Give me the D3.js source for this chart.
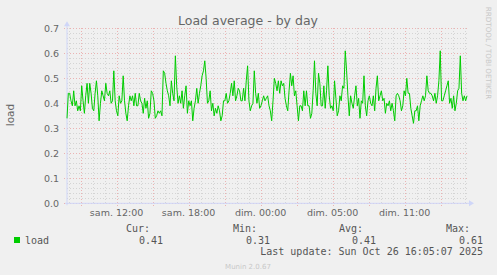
<!DOCTYPE html>
<html>
<head>
<meta charset="utf-8">
<script src="https://cdn.jsdelivr.net/npm/d3@7"></script>
<style>
html,body{margin:0;padding:0;background:#f0f0f0;}
svg{display:block;}
text{font-family:"DejaVu Sans",sans-serif;}
.mono{font-family:"DejaVu Sans Mono",monospace;}
</style>
</head>
<body>
<svg id="chart" width="497" height="275"></svg>
<script>
// ---------- data ----------
const title = "Load average - by day";
const yLabel = "load";
const seriesName = "load";
const startTime = "2025-10-25T05:52:00Z";
const endTime = "2025-10-26T15:12:00Z";
const dstEnd = "2025-10-26T01:00:00Z";
const dayNames = ["dim.", "lun.", "mar.", "mer.", "jeu.", "ven.", "sam."];
const yTicks = [0.0, 0.1, 0.2, 0.3, 0.4, 0.5, 0.6, 0.7];
const legendHeaders = ["Cur:", "Min:", "Avg:", "Max:"];
const legendValues = ["0.41", "0.31", "0.41", "0.61"];
const lastUpdate = "Last update: Sun Oct 26 16:05:07 2025";
const footer = "Munin 2.0.67";
const watermark = "RRDTOOL / TOBI OETIKER";

const loadValues = [
0.34,0.44,0.44,0.41,0.39,0.45,0.39,0.41,0.37,0.39,0.37,0.47,0.41,0.36,0.43,0.48,0.40,0.48,0.44,0.38,
0.37,0.44,0.49,0.43,0.33,0.40,0.45,0.43,0.41,0.48,0.44,0.43,0.45,0.40,0.41,0.53,0.41,0.37,0.35,0.43,
0.40,0.41,0.51,0.41,0.36,0.33,0.39,0.43,0.41,0.43,0.39,0.44,0.39,0.39,0.44,0.41,0.40,0.36,0.42,0.38,
0.41,0.34,0.36,0.45,0.44,0.41,0.34,0.35,0.37,0.36,0.37,0.35,0.53,0.52,0.48,0.45,0.43,0.39,0.49,0.44,
0.41,0.59,0.47,0.40,0.43,0.40,0.45,0.38,0.43,0.47,0.36,0.41,0.39,0.41,0.33,0.38,0.41,0.46,0.40,0.44,
0.47,0.51,0.53,0.57,0.50,0.40,0.41,0.45,0.37,0.40,0.35,0.38,0.36,0.39,0.37,0.33,0.35,0.41,0.41,0.44,
0.40,0.41,0.44,0.48,0.43,0.49,0.41,0.43,0.46,0.45,0.41,0.41,0.46,0.41,0.49,0.55,0.41,0.37,0.39,0.40,
0.53,0.44,0.40,0.44,0.38,0.39,0.41,0.43,0.41,
0.42,0.43,0.39,0.37,0.33,0.41,0.50,0.48,0.45,0.49,0.44,0.49,0.47,0.48,0.42,0.39,0.37,0.45,0.52,0.47,
0.51,0.43,0.45,0.39,0.33,0.39,0.39,0.37,0.45,0.39,0.45,0.39,0.39,0.34,0.36,0.45,0.57,0.44,0.39,0.52,
0.48,0.39,0.39,0.47,0.38,0.45,0.55,0.43,0.38,0.39,0.37,0.49,0.42,0.35,0.37,0.43,0.41,0.47,0.46,0.61,
0.53,0.43,0.35,0.43,0.40,0.38,0.43,0.47,0.39,0.42,0.34,0.41,0.40,0.51,0.39,0.35,0.41,0.43,0.40,0.39,
0.43,0.37,0.46,0.51,0.41,0.43,0.45,0.41,0.42,0.36,0.40,0.39,0.41,0.37,0.40,0.37,0.33,0.43,0.44,0.43,
0.41,0.37,0.39,0.45,0.43,0.50,0.44,0.44,0.38,0.35,0.32,0.37,0.37,0.39,0.33,0.39,0.41,0.43,0.41,0.43,
0.51,0.45,0.44,0.44,0.43,0.41,0.44,0.40,0.43,0.49,0.61,0.41,0.41,0.43,0.45,0.47,0.49,0.40,0.42,0.38,
0.43,0.37,0.40,0.45,0.46,0.59,0.44,0.41,0.43,0.41,0.43
];

// ---------- layout ----------
const W = 497, H = 275;
const plot = {left: 67, right: 467, top: 28.3, bottom: 203.3};
const C = {
  back: "#f0f0f0", canvas: "#f0f0f0", font: "#666666", axis: "#cfd6f8",
  grid: "rgba(140,140,140,0.28)", mgrid: "rgba(225,80,80,0.38)", line: "#00cc00",
  legendText: "#555555", faint: "#c8c8c8"
};

const svg = d3.select("#chart");
svg.append("rect").attr("width", W).attr("height", H).attr("fill", C.back);
svg.append("rect").attr("x", plot.left).attr("y", plot.top)
  .attr("width", plot.right - plot.left).attr("height", plot.bottom - plot.top).attr("fill", C.canvas);

const t0 = new Date(startTime), t1 = new Date(endTime), tDst = new Date(dstEnd);
const x = d3.scaleUtc().domain([t0, t1]).range([plot.left, plot.right]);
const y = d3.scaleLinear().domain([0, 0.7]).range([plot.bottom, plot.top]);

// grid
const g = svg.append("g").attr("shape-rendering", "crispEdges");
const minorY = d3.range(0, 36).map(i => i * 0.02).filter(v => Math.abs(v * 10 - Math.round(v * 10)) > 1e-6);
g.selectAll(".hmin").data(minorY).join("line")
  .attr("x1", plot.left).attr("x2", plot.right + 1)
  .attr("y1", d => Math.round(y(d)) + 0.5).attr("y2", d => Math.round(y(d)) + 0.5)
  .attr("stroke", C.grid).attr("stroke-dasharray", "1,2");
const hourTicks = x.ticks(d3.utcHour.every(1));
const minorX = hourTicks.filter(d => d.getUTCHours() % 3 !== 1);
const majorX = hourTicks.filter(d => d.getUTCHours() % 3 === 1);
g.selectAll(".vmin").data(minorX).join("line")
  .attr("x1", d => Math.round(x(d)) + 0.5).attr("x2", d => Math.round(x(d)) + 0.5)
  .attr("y1", plot.top).attr("y2", plot.bottom)
  .attr("stroke", C.grid).attr("stroke-dasharray", "1,2");
g.selectAll(".hmaj").data(yTicks).join("line")
  .attr("x1", plot.left - 3).attr("x2", plot.right + 2)
  .attr("y1", d => Math.round(y(d)) + 0.5).attr("y2", d => Math.round(y(d)) + 0.5)
  .attr("stroke", C.mgrid).attr("stroke-dasharray", "1,2");
g.selectAll(".vmaj").data(majorX).join("line")
  .attr("x1", d => Math.round(x(d)) + 0.5).attr("x2", d => Math.round(x(d)) + 0.5)
  .attr("y1", plot.top).attr("y2", plot.bottom + 3)
  .attr("stroke", C.mgrid).attr("stroke-dasharray", "1,2");

// axes lines + arrows
svg.append("line").attr("x1", plot.left - 2).attr("x2", plot.right + 3)
  .attr("y1", plot.bottom).attr("y2", plot.bottom).attr("stroke", C.axis).attr("stroke-width", 1);
svg.append("line").attr("x1", plot.left).attr("x2", plot.left)
  .attr("y1", plot.bottom + 2).attr("y2", plot.top - 3).attr("stroke", C.axis).attr("stroke-width", 1);
svg.append("path").attr("d", d3.line()([[plot.right + 2, plot.bottom - 3], [plot.right + 7, plot.bottom], [plot.right + 2, plot.bottom + 3]]) + "Z")
  .attr("fill", C.axis);
svg.append("path").attr("d", d3.line()([[plot.left - 3, plot.top - 2], [plot.left, plot.top - 7], [plot.left + 3, plot.top - 2]]) + "Z")
  .attr("fill", C.axis);

// y tick labels
svg.selectAll(".ylab").data(yTicks).join("text")
  .attr("x", plot.left - 8).attr("y", d => y(d) + 3.5)
  .attr("text-anchor", "end").attr("font-size", 9.5).attr("fill", C.font)
  .text(d => d3.format(".1f")(d));

// x tick labels
const labelX = hourTicks.filter(d => d.getUTCHours() % 6 === 4);
function fmtLocal(d) {
  const off = d < tDst ? 2 : 1;
  const l = new Date(d.getTime() + off * 3600000);
  return dayNames[l.getUTCDay()] + " " + d3.utcFormat("%H:%M")(l);
}
svg.selectAll(".xlab").data(labelX).join("text")
  .attr("x", d => x(d)).attr("y", 216)
  .attr("text-anchor", "middle").attr("font-size", 9.5).attr("fill", C.font)
  .text(fmtLocal);

// series line
const times = loadValues.map((v, i) => new Date(t0.getTime() + i * (t1 - t0) / (loadValues.length - 1)));
const line = d3.line().x((d, i) => x(times[i])).y(d => y(d));
svg.append("path").datum(loadValues).attr("d", line)
  .attr("fill", "none").attr("stroke", C.line).attr("stroke-width", 1);

// title
svg.append("text").attr("x", 248).attr("y", 24.5).attr("text-anchor", "middle")
  .attr("font-size", 12.5).attr("fill", C.font).text(title);

// y label
svg.append("text").attr("transform", "translate(14,115) rotate(-90)")
  .attr("text-anchor", "middle").attr("font-size", 10.5).attr("fill", C.font).text(yLabel);

// watermark
svg.append("text").attr("transform", "translate(486,53) rotate(90)")
  .attr("text-anchor", "middle").attr("font-size", 7.2).attr("fill", C.faint).text(watermark);

// legend
svg.append("rect").attr("x", 14).attr("y", 237).attr("width", 6).attr("height", 6).attr("fill", C.line);
svg.append("text").attr("class", "mono").attr("x", 25).attr("y", 243.5)
  .attr("font-size", 10).attr("fill", C.legendText).text(seriesName);
const colEnds = [150, 257, 363, 470];
svg.selectAll(".lh").data(legendHeaders).join("text").attr("class", "mono")
  .attr("x", (d, i) => colEnds[i]).attr("y", 232).attr("text-anchor", "end")
  .attr("font-size", 10).attr("fill", C.legendText).text(d => d);
svg.selectAll(".lv").data(legendValues).join("text").attr("class", "mono")
  .attr("x", (d, i) => colEnds[i] + 13).attr("y", 243.5).attr("text-anchor", "end")
  .attr("font-size", 10).attr("fill", C.legendText).text(d => d);
svg.append("text").attr("class", "mono").attr("x", 483).attr("y", 255).attr("text-anchor", "end")
  .attr("font-size", 10).attr("fill", C.legendText).text(lastUpdate);
svg.append("text").attr("x", 248).attr("y", 269).attr("text-anchor", "middle")
  .attr("font-size", 7).attr("fill", C.faint).text(footer);
</script>
</body>
</html>
